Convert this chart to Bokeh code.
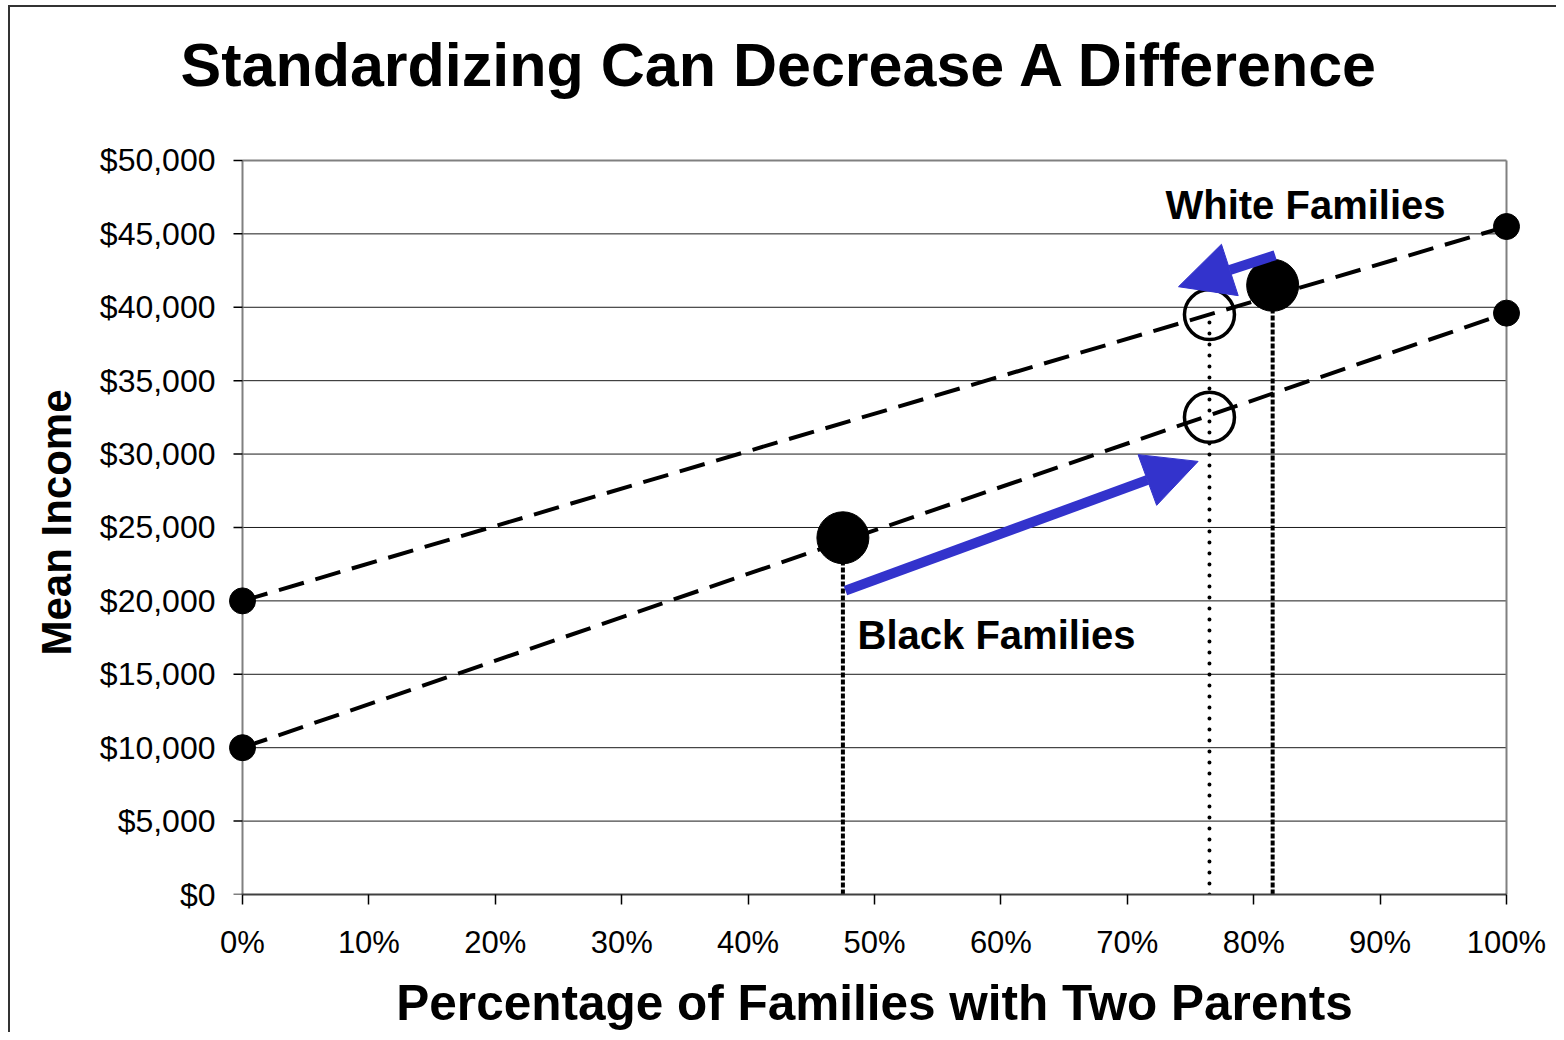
from bokeh.plotting import figure
from bokeh.models import Label, Arrow, NormalHead, NumeralTickFormatter, FixedTicker, Range1d, Title
from bokeh.embed import file_html
from bokeh.resources import INLINE

# ---- data ----
x_ends = [0.0, 1.0]                       # 0% and 100% two-parent families
white_line = [20000, 45500]               # mean income, white families
black_line = [10000, 39600]               # mean income, black families
groups = ["White Families", "Black Families"]
actual_pct = [0.815, 0.475]               # actual share of two-parent families
actual_income = [41500, 24300]            # actual mean income
std_pct = [0.765, 0.765]                  # standardized share
std_income = [39500, 32500]               # standardized mean income
x_ticks = [0.0, 0.1, 0.2, 0.3, 0.4, 0.5, 0.6, 0.7, 0.8, 0.9, 1.0]
y_ticks = [0, 5000, 10000, 15000, 20000, 25000, 30000, 35000, 40000, 45000, 50000]

FONT = "Liberation Sans"
BLUE = "#3333CC"
GRAY = "#808080"

# plot area 1264 x 737 px for 0..100% x $0..$50,000; a small pad keeps edge markers unclipped
PX_W, PX_H, PAD_X, PAD_TOP = 1264, 737, 20, 10
xpad = PAD_X / PX_W
ypad = PAD_TOP / PX_H * 50000
tick_len = 9 / PX_W

p = figure(width=1556, height=1032,
           x_range=Range1d(-xpad, 1 + xpad), y_range=Range1d(0, 50000 + ypad),
           output_backend="svg", toolbar_location=None,
           min_border_left=242 - PAD_X, min_border_right=1556 - 1506 - PAD_X,
           min_border_top=160 - PAD_TOP, min_border_bottom=1032 - 897,
           title="Standardizing Can Decrease A Difference")
p.background_fill_color = None
p.border_fill_color = None
p.outline_line_color = None
p.styles = {"box-shadow": "inset 8px 5px 0 0 white, inset 10px 7px 0 0 #333333"}

p.title.text_font = FONT
p.title.text_font_size = "61px"
p.title.text_font_style = "bold"
p.title.text_color = "black"
p.title.align = "left"
p.title.offset = 180 - (242 - PAD_X)
p.title.standoff = 50
# spacer between title and plot area
p.add_layout(Title(text=" ", text_font_size="1px", standoff=24), "above")

p.xgrid.visible = False
p.ygrid.visible = False

p.xaxis.ticker = FixedTicker(ticks=x_ticks)
p.yaxis.ticker = FixedTicker(ticks=y_ticks)
p.xaxis.formatter = NumeralTickFormatter(format="0%")
p.yaxis.formatter = NumeralTickFormatter(format="$0,0")
p.xaxis.bounds = (0, 1)
p.yaxis.bounds = (0, 50000)

for ax in (p.xaxis[0], p.yaxis[0]):
    ax.major_label_text_font = FONT
    ax.major_label_text_color = "black"
    ax.axis_label_text_font = FONT
    ax.axis_label_text_font_style = "bold"
    ax.axis_label_text_color = "black"
    ax.minor_tick_line_color = None
    ax.major_tick_in = 0
    ax.major_tick_line_color = "black"
    ax.major_tick_line_width = 1.5
    ax.axis_line_width = 2

p.xaxis.major_label_text_font_size = "31px"
p.yaxis.major_label_text_font_size = "32px"
p.xaxis.axis_line_color = "#404040"
p.xaxis.major_tick_out = 10
p.xaxis.major_label_standoff = 20
# y axis line and ticks are drawn at x = 0 below, labels sit left of them
p.yaxis.axis_line_color = None
p.yaxis.major_tick_line_color = None
p.yaxis.major_tick_out = 0
p.yaxis.major_label_standoff = (242 - PAD_X) - 215
p.xaxis.axis_label = "Percentage of Families with Two Parents"
p.xaxis.axis_label_text_font_size = "49.5px"
p.xaxis.axis_label_standoff = 12
p.yaxis.axis_label = "Mean Income"
p.yaxis.axis_label_text_font_size = "42px"
p.yaxis.axis_label_standoff = 17

# white plot area, horizontal gridlines and plot-area border
p.quad(left=[0], right=[1], bottom=[0], top=[50000], fill_color="white", line_color=None)
p.segment(x0=[0] * (len(y_ticks) - 2), x1=[1] * (len(y_ticks) - 2),
          y0=y_ticks[1:-1], y1=y_ticks[1:-1], line_color="#1a1a1a", line_width=1)
p.segment(x0=[0, 1, 0], x1=[1, 1, 0], y0=[y_ticks[-1], 0, 0],
          y1=[y_ticks[-1], y_ticks[-1], y_ticks[-1]], line_color=GRAY, line_width=2)
p.segment(x0=[-tick_len] * len(y_ticks), x1=[0] * len(y_ticks), y0=y_ticks, y1=y_ticks,
          line_color="black", line_width=1.5)

# dashed trend lines
p.line(x_ends, white_line, line_color="black", line_width=4, line_dash="26 12")
p.line(x_ends, black_line, line_color="black", line_width=4, line_dash="26 12")

# vertical drop lines
p.segment(x0=std_pct[:1], y0=[0], x1=std_pct[:1], y1=std_income[:1],
          line_color="black", line_width=4, line_dash="0 11", line_cap="round")
p.segment(x0=actual_pct, y0=[0, 0], x1=actual_pct, y1=actual_income,
          line_color="black", line_width=4, line_dash="5 2")

# end points of trend lines
p.scatter(x_ends + x_ends, white_line + black_line, size=26, color="black")
# actual points
p.scatter(actual_pct, actual_income, size=52, color="black")
# standardized points
p.scatter(std_pct, std_income, size=50, fill_color=None, line_color="black", line_width=3.5)

# arrows (from actual toward standardized)
p.add_layout(Arrow(end=NormalHead(size=54, fill_color=BLUE, line_color=BLUE, line_width=1),
                   x_start=actual_pct[1] + 0.002, y_start=actual_income[1] - 3600,
                   x_end=std_pct[1] - 0.009, y_end=std_income[1] - 3000,
                   line_color=BLUE, line_width=10))
p.add_layout(Arrow(end=NormalHead(size=54, fill_color=BLUE, line_color=BLUE, line_width=1),
                   x_start=actual_pct[0] + 0.002, y_start=actual_income[0] + 2050,
                   x_end=std_pct[0] - 0.0245, y_end=std_income[0] + 1900,
                   line_color=BLUE, line_width=10))

# group labels
p.add_layout(Label(x=0.7302, y=47000, text=groups[0], text_font=FONT, text_font_size="40px",
                   text_font_style="bold", text_color="black", text_baseline="alphabetic"))
p.add_layout(Label(x=0.4866, y=17700, text=groups[1], text_font=FONT, text_font_size="40px",
                   text_font_style="bold", text_color="black", text_baseline="alphabetic"))

open("out.html", "w").write(file_html(p, INLINE))
